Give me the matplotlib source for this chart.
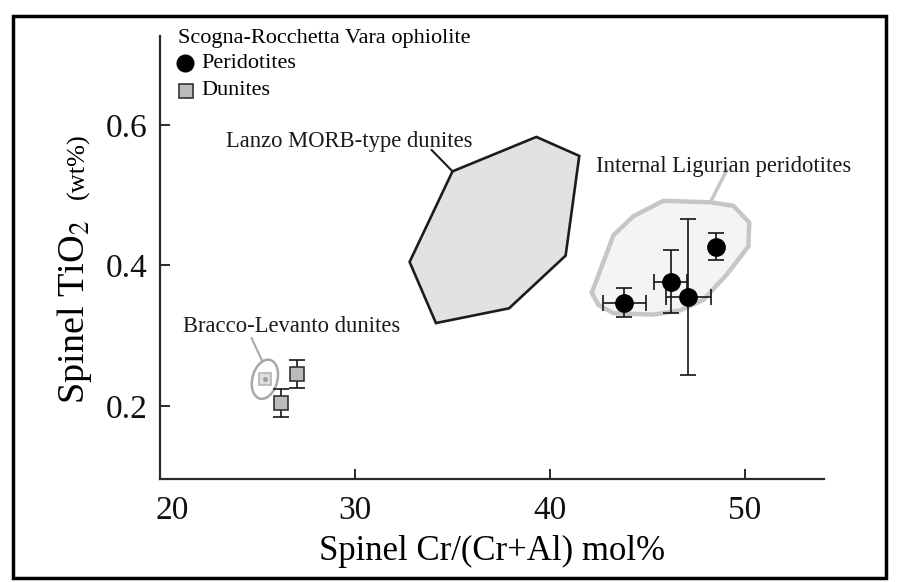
import matplotlib.pyplot as plt
from matplotlib.patches import Polygon, Rectangle, Ellipse
from matplotlib.transforms import ScaledTranslation

plt.rcParams['font.family'] = ['Liberation Serif', 'DejaVu Serif']
plt.rcParams['mathtext.fontset'] = 'stix'

# Scogna-Rocchetta Vara peridotites (Cr#, TiO2, errors)
per_x = [43.8, 46.2, 47.1, 48.5]
per_y = [0.347, 0.377, 0.355, 0.427]
per_xerr = [1.1, 0.85, 1.15, 0.0]
per_yerr = [0.021, 0.045, 0.111, 0.019]

# Scogna-Rocchetta Vara dunites
dun_x = [27.0, 26.2]
dun_y = [0.246, 0.204]
dun_yerr = [0.020, 0.020]

# Lanzo MORB-type dunites field
lanzo_x = [35.0, 39.3, 41.5, 40.8, 37.9, 34.15, 32.8]
lanzo_y = [0.534, 0.583, 0.556, 0.414, 0.339, 0.318, 0.405]

# Internal Ligurian peridotites field
ligur_x = [42.14, 43.25, 44.27, 45.81, 48.21, 49.40, 50.22, 50.17,
           49.06, 47.86, 46.67, 45.30, 43.25, 42.48]
ligur_y = [0.361, 0.443, 0.470, 0.492, 0.490, 0.485, 0.461, 0.427,
           0.387, 0.351, 0.336, 0.330, 0.332, 0.344]

# Bracco-Levanto dunites (single field)
bracco_x, bracco_y = 25.38, 0.238

# labels: (text, x, y) and leader lines
lanzo_label = ("Lanzo MORB-type dunites", 23.4, 0.577)
lanzo_lead_x, lanzo_lead_y = [33.93, 35.0], [0.5644, 0.534]
ligur_label = ("Internal Ligurian peridotites", 42.36, 0.541)
ligur_lead_x, ligur_lead_y = [49.05, 48.26], [0.535, 0.4918]
bracco_label = ("Bracco-Levanto dunites", 21.16, 0.3125)
bracco_lead_x, bracco_lead_y = [24.70, 25.22], [0.2964, 0.2655]

xticks = [20, 30, 40, 50]
yticks = [0.2, 0.4, 0.6]

W, H = 899, 582
fig = plt.figure(figsize=(W / 100, H / 100), dpi=100)
ax = fig.add_axes([160 / W, (H - 479) / H, 664 / W, 443 / H])

# fields
ax.add_patch(Polygon(list(zip(ligur_x, ligur_y)), closed=True,
                     facecolor='#f4f4f4', edgecolor='#c6c6c6', lw=3.2, zorder=1))
ax.add_patch(Polygon(list(zip(lanzo_x, lanzo_y)), closed=True,
                     facecolor='#e2e2e2', edgecolor='#1c1c1c', lw=1.9, zorder=1))
ell_tr = fig.dpi_scale_trans + ScaledTranslation(bracco_x, bracco_y, ax.transData)
ax.add_patch(Ellipse((0, 0), 0.25, 0.40, angle=-15, transform=ell_tr,
                     facecolor='none', edgecolor='#a8a8a8', lw=1.8, zorder=2))
ax.plot([bracco_x], [bracco_y], 's', ms=8.5, mfc='#dedede', mec='#b5b5b5',
        mew=1.2, zorder=2)
ax.plot([bracco_x], [bracco_y], 'o', ms=2.5, color='#9a9a9a', zorder=2)

# leader lines and labels
ax.plot(lanzo_lead_x, lanzo_lead_y, color='#1c1c1c', lw=1.5, zorder=2)
ax.plot(ligur_lead_x, ligur_lead_y, color='#c6c6c6', lw=2.5, zorder=2)
ax.plot(bracco_lead_x, bracco_lead_y, color='#a8a8a8', lw=1.5, zorder=2)
for txt, tx, ty in (lanzo_label, ligur_label, bracco_label):
    ax.text(tx, ty, txt, fontsize=16.3, ha='left', va='center', color='#1a1a1a')

# data
ax.errorbar(per_x, per_y, xerr=per_xerr, yerr=per_yerr, fmt='none',
            ecolor='#151515', elinewidth=1.2, capsize=6, capthick=1.2, zorder=3)
ax.plot(per_x, per_y, 'o', ms=12.5, color='black', zorder=4)
ax.errorbar(dun_x, dun_y, yerr=dun_yerr, fmt='none',
            ecolor='#151515', elinewidth=1.2, capsize=6, capthick=1.2, zorder=3)
ax.plot(dun_x, dun_y, 's', ms=9.5, mfc='#bcbcbc', mec='#333333', mew=1.2, zorder=4)

# legend block
ax.text(0.027, 0.995, "Scogna-Rocchetta Vara ophiolite", transform=ax.transAxes,
        fontsize=16, ha='left', va='center')
ax.plot([0.0377], [0.939], 'o', ms=12, color='black', transform=ax.transAxes,
        clip_on=False)
ax.text(0.0628, 0.939, "Peridotites", transform=ax.transAxes,
        fontsize=16, ha='left', va='center')
ax.plot([0.039], [0.8766], 's', ms=9.5, mfc='#bcbcbc', mec='#333333', mew=1.2,
        transform=ax.transAxes, clip_on=False)
ax.text(0.0628, 0.8766, "Dunites", transform=ax.transAxes,
        fontsize=16, ha='left', va='center')

# axes styling
ax.set_xlim(20, 54.05)
ax.set_ylim(0.096, 0.7267)
for s in ('top', 'right'):
    ax.spines[s].set_visible(False)
for s in ('left', 'bottom'):
    ax.spines[s].set_linewidth(1.6)
    ax.spines[s].set_color('#2a2a2a')
ax.set_xticks(xticks)
ax.set_xticklabels([str(t) for t in xticks])
ax.set_yticks(yticks)
ax.set_yticklabels([f"{t:.1f}" for t in yticks])
ax.tick_params(axis='both', direction='in', length=7, width=1.4,
               colors='#2a2a2a', labelcolor='#111111', labelsize=24)
ax.tick_params(axis='x', pad=12)
ax.tick_params(axis='y', pad=9)
first = ax.get_xticklabels()[0]
first.set_transform(first.get_transform() + ScaledTranslation(12 / 100, 0, fig.dpi_scale_trans))

ax.set_xlabel("Spinel Cr/(Cr+Al) mol%", fontsize=25, labelpad=6)

# y label: two sizes
fig.text(75 / W, 1 - 312 / H, "Spinel TiO$_2$", rotation=90, fontsize=27.5,
         ha='center', va='center')
fig.text(78 / W, 1 - 166 / H, "(wt%)", rotation=90, fontsize=19,
         ha='center', va='center')

# outer frame
fig.patches.append(Rectangle((13 / W, 4 / H), 873 / W, 562 / H, transform=fig.transFigure,
                             fill=False, edgecolor='black', lw=2.5))

fig.savefig('out.png', dpi=100)
